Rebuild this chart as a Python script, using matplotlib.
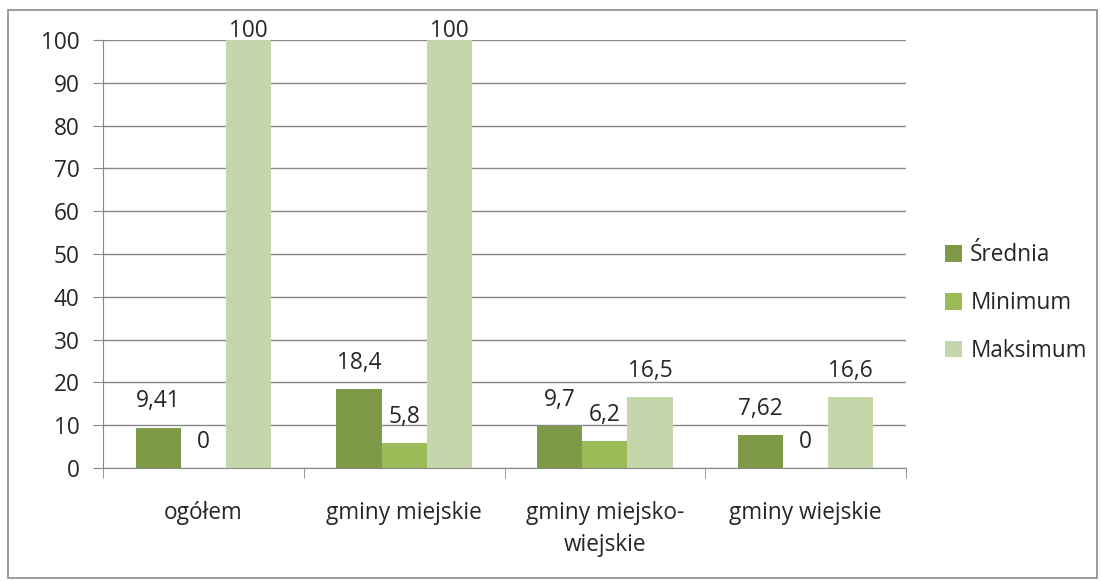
import matplotlib
matplotlib.use("Agg")
import matplotlib.pyplot as plt
import numpy as np
from matplotlib.patches import Rectangle

plt.rcParams["font.family"] = ["Open Sans", "DejaVu Sans"]

categories = ["ogółem", "gminy miejskie", "gminy miejsko-\nwiejskie", "gminy wiejskie"]
srednia = [9.41, 18.4, 9.7, 7.62]
minimum = [0, 5.8, 6.2, 0]
maksimum = [100, 100, 16.5, 16.6]
srednia_lbl = ["9,41", "18,4", "9,7", "7,62"]
minimum_lbl = ["0", "5,8", "6,2", "0"]
maksimum_lbl = ["100", "100", "16,5", "16,6"]
series = ["Średnia", "Minimum", "Maksimum"]

COLORS = ["#7E9A49", "#9BBB59", "#C5D6AA"]
GRID = "#888888"
TXT = "#262626"
FS = 16.3

fig = plt.figure(figsize=(11.0, 5.81), dpi=100)
fig.patch.set_facecolor("white")
fig.patches.append(Rectangle((8 / 1100, 3 / 581), 1089 / 1100, 568 / 581, transform=fig.transFigure,
                             fill=False, ec="#8C8C8C", lw=1.2))
ax = fig.add_axes([103 / 1100, 1 - 468 / 581, 803 / 1100, 428 / 581])

x = np.arange(len(categories))
w = 0.225
for i, (vals, lbls) in enumerate([(srednia, srednia_lbl), (minimum, minimum_lbl), (maksimum, maksimum_lbl)]):
    xs = x + (i - 1) * w
    ax.bar(xs, vals, width=w, color=COLORS[i], label=series[i], zorder=3)
    for xi, v, t in zip(xs, vals, lbls):
        if v >= 99:
            ax.text(xi, v - 0.6, t, ha="center", va="bottom", fontsize=FS, color=TXT, zorder=4)
        else:
            ax.annotate(t, (xi, v), xytext=(0, 19), textcoords="offset points",
                        ha="center", va="center", fontsize=FS, color=TXT, zorder=4)

ax.set_xlim(-0.5, len(categories) - 0.5)
ax.set_ylim(0, 100)
ax.set_yticks(np.arange(0, 101, 10))
ax.yaxis.grid(True, color=GRID, lw=1.0, zorder=0)
ax.set_axisbelow(True)
for s in ["top", "right"]:
    ax.spines[s].set_visible(False)
ax.spines["left"].set_color(GRID)
ax.spines["bottom"].set_color(GRID)
ax.tick_params(axis="y", length=7, color=GRID, labelsize=FS, labelcolor=TXT, pad=10)
ax.set_xticks(x)
ax.set_xticklabels(categories)
ax.set_xticks(np.arange(-0.5, len(categories)), minor=True)
ax.tick_params(axis="x", which="major", length=0, pad=24, labelsize=FS, labelcolor=TXT)
ax.tick_params(axis="x", which="minor", length=7, color=GRID)
for lab in ax.get_xticklabels():
    lab.set_verticalalignment("top")
    lab.set_linespacing(1.4)

leg = fig.legend(loc="upper left", bbox_to_anchor=(925 / 1100, 1 - 223 / 581), frameon=False,
                 fontsize=FS, handlelength=0.75, handleheight=0.75, handletextpad=0.35,
                 labelspacing=1.05, labelcolor=TXT)

fig.savefig("out.png", facecolor="white")
